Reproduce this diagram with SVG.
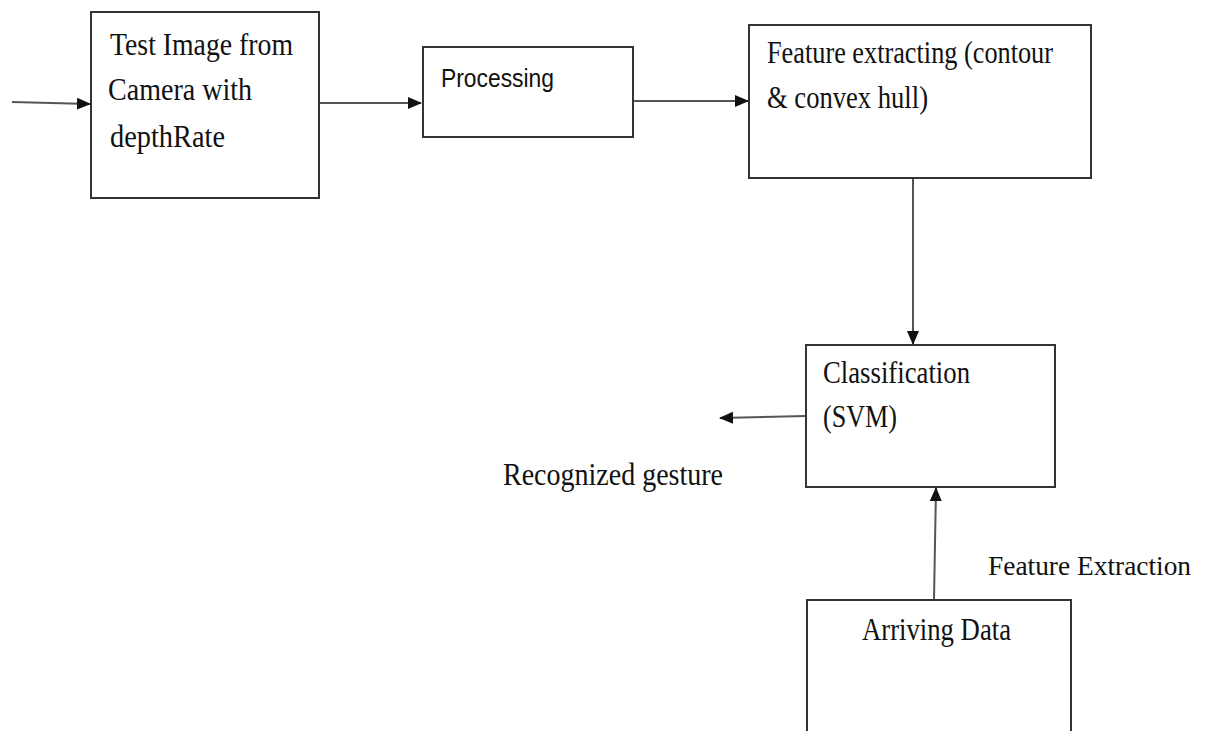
<svg xmlns="http://www.w3.org/2000/svg" width="1206" height="731" viewBox="0 0 1206 731">
<style>
.box{fill:#fff;stroke:#333;stroke-width:2}
.ln{stroke:#555;stroke-width:2;fill:none;marker-end:url(#ah)}
.t{font-family:"Liberation Serif","Times New Roman",serif;font-size:32px;fill:#111}
.s{font-family:"Liberation Sans",Arial,sans-serif;font-size:26px;fill:#111}
</style>
<defs>
<marker id="ah" markerWidth="14" markerHeight="14" refX="13" refY="6" orient="auto" markerUnits="userSpaceOnUse" viewBox="0 0 14 12">
<path d="M0,0 L14,6 L0,12 z" fill="#111"/>
</marker>
</defs>
<rect width="1206" height="731" fill="#fff"/>
<g id="connectors">
<line class="ln" x1="12" y1="102" x2="90" y2="104"/>
<line class="ln" x1="319" y1="103" x2="421" y2="103"/>
<line class="ln" x1="633" y1="101" x2="748" y2="101"/>
<line class="ln" x1="913" y1="178" x2="913" y2="344"/>
<line class="ln" x1="806" y1="416" x2="720" y2="418"/>
<line class="ln" x1="934" y1="600" x2="936" y2="488"/>
</g>
<g id="node-test-image">
<rect class="box" x="91" y="12" width="228" height="186"/>
<text class="t" x="110" y="55" textLength="183" lengthAdjust="spacingAndGlyphs">Test Image from</text>
<text class="t" x="108" y="100" textLength="144" lengthAdjust="spacingAndGlyphs">Camera with</text>
<text class="t" x="110" y="147" textLength="115" lengthAdjust="spacingAndGlyphs">depthRate</text>
</g>
<g id="node-processing">
<rect class="box" x="423" y="47" width="210" height="90"/>
<text class="s" x="441" y="87" textLength="113" lengthAdjust="spacingAndGlyphs">Processing</text>
</g>
<g id="node-feature">
<rect class="box" x="749" y="25" width="342" height="153"/>
<text class="t" x="767" y="63" textLength="286" lengthAdjust="spacingAndGlyphs">Feature extracting (contour</text>
<text class="t" x="767" y="108" textLength="161" lengthAdjust="spacingAndGlyphs">&amp; convex hull)</text>
</g>
<g id="node-classification">
<rect class="box" x="806" y="345" width="249" height="142"/>
<text class="t" x="823" y="383" textLength="147" lengthAdjust="spacingAndGlyphs">Classification</text>
<text class="t" x="823" y="427" textLength="74" lengthAdjust="spacingAndGlyphs">(SVM)</text>
</g>
<g id="label-recognized">
<text class="t" x="503" y="485" textLength="220" lengthAdjust="spacingAndGlyphs">Recognized gesture</text>
</g>
<g id="label-feature-extraction">
<text x="988" y="575" font-family="Liberation Serif, Times New Roman, serif" font-size="27.4" fill="#111">Feature Extraction</text>
</g>
<g id="node-arriving">
<rect class="box" x="807" y="600" width="264" height="150"/>
<text class="t" x="862" y="640" textLength="149" lengthAdjust="spacingAndGlyphs">Arriving Data</text>
</g>
</svg>
